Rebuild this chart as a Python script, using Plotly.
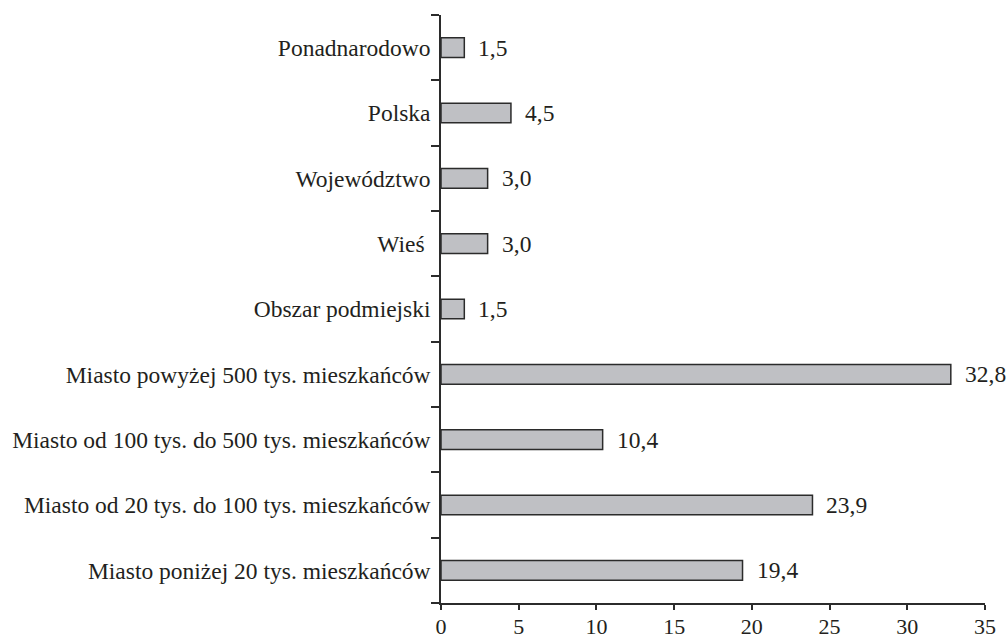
import plotly.graph_objects as go

categories = [
    "Miasto poniżej 20 tys. mieszkańców",
    "Miasto od 20 tys. do 100 tys. mieszkańców",
    "Miasto od 100 tys. do 500 tys. mieszkańców",
    "Miasto powyżej 500 tys. mieszkańców",
    "Obszar podmiejski",
    "Wieś\u00a0",
    "Województwo",
    "Polska",
    "Ponadnarodowo",
]
values = [19.4, 23.9, 10.4, 32.8, 1.5, 3.0, 3.0, 4.5, 1.5]
x_ticks = [0, 5, 10, 15, 20, 25, 30, 35]

FONT = "Liberation Serif"
INK = "#231f20"
FS = 23.5

fig = go.Figure()
fig.add_trace(go.Bar(
    y=categories, x=values, orientation="h", width=0.3,
    marker=dict(color="#bfc0c4", line=dict(color="#2b2b2b", width=1.5)),
    hoverinfo="skip",
))

for c, v in zip(categories, values):
    fig.add_annotation(
        x=v, y=c, text=f"{v:.1f}".replace(".", ","), showarrow=False,
        xanchor="left", xshift=12, font=dict(family=FONT, size=FS, color=INK),
    )

fig.update_layout(
    width=1007, height=638,
    margin=dict(l=441, r=22, t=15, b=35, autoexpand=False),
    paper_bgcolor="white", plot_bgcolor="white",
    showlegend=False,
    font=dict(family=FONT, size=FS, color=INK),
    xaxis=dict(
        range=[0, 35], tickvals=x_ticks, ticktext=[str(t) for t in x_ticks],
        showgrid=False, zeroline=False, showline=True, linecolor="#2b2b2b", linewidth=1.5,
        ticks="outside", ticklen=5, tickwidth=1.5, tickcolor="#2b2b2b",
        tickfont=dict(family=FONT, size=22, color=INK), automargin=False,
        ticklabelstandoff=-2,
    ),
    yaxis=dict(
        type="category", categoryorder="array", categoryarray=categories,
        range=[-0.5, 8.5], tickson="boundaries",
        showgrid=False, zeroline=False, showline=True, linecolor="#2b2b2b", linewidth=1.5,
        ticks="outside", ticklen=8, tickwidth=1.5, tickcolor="#2b2b2b",
        tickfont=dict(family=FONT, size=FS, color=INK), automargin=False,
        ticklabelstandoff=4,
    ),
)

fig.write_html(
    "out.html",
    config={"displayModeBar": False},
    post_script="document.body.style.margin='0';document.body.style.overflow='hidden';",
)
